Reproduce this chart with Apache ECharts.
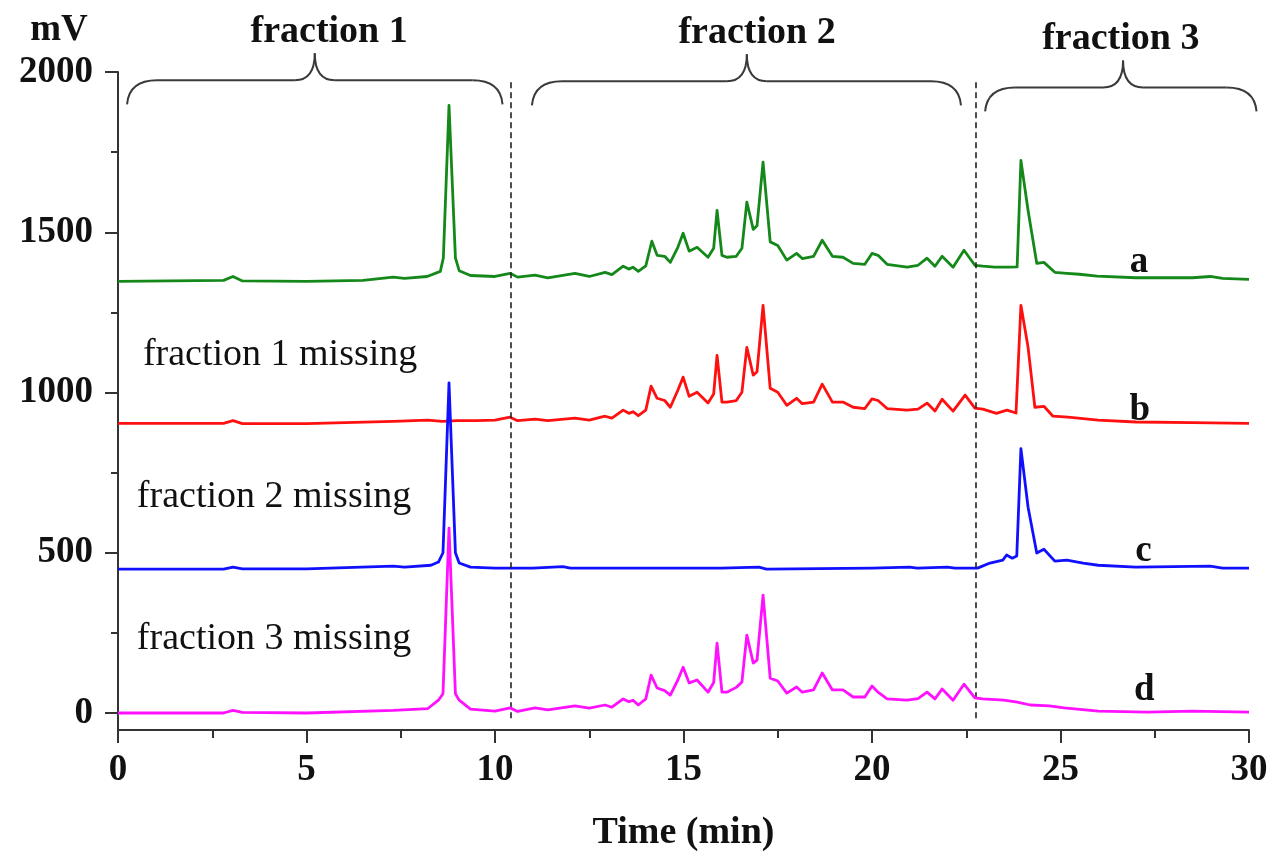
<!DOCTYPE html>
<html>
<head>
<meta charset="utf-8">
<script src="https://cdn.jsdelivr.net/npm/echarts@6/dist/echarts.min.js"></script>
<style>
  html, body { margin: 0; padding: 0; background: #fff; }
  #chart { width: 1273px; height: 859px; }
</style>
</head>
<body>
<div id="chart"></div>
<script>
// Chromatograms: [time (min), signal (mV)], traces stacked with offsets
const traceA = [
  [0.0,1347],[2.8,1350],[3.05,1362],[3.3,1348],[5.0,1347],[6.5,1350],[7.3,1360],[7.6,1356],
  [8.2,1362],[8.55,1378],[8.63,1420],[8.78,1896],[8.95,1420],[9.05,1380],[9.35,1365],[10.0,1362],
  [10.4,1372],[10.6,1360],[11.06,1366],[11.4,1358],[12.12,1372],[12.5,1362],[12.92,1375],[13.1,1368],
  [13.4,1394],[13.55,1385],[13.66,1391],[13.8,1378],[14.0,1395],[14.16,1472],[14.3,1428],[14.5,1425],
  [14.65,1406],[14.85,1453],[14.99,1497],[15.15,1441],[15.36,1453],[15.65,1422],[15.8,1450],[15.89,1568],
  [16.02,1428],[16.15,1422],[16.4,1425],[16.55,1450],[16.68,1594],[16.85,1509],[16.95,1520],[17.11,1719],
  [17.3,1470],[17.5,1459],[17.74,1413],[18.0,1434],[18.15,1418],[18.45,1425],[18.68,1475],[18.95,1425],
  [19.23,1422],[19.5,1403],[19.81,1400],[20.0,1434],[20.16,1428],[20.4,1400],[20.93,1391],[21.22,1397],
  [21.46,1419],[21.67,1394],[21.86,1425],[22.15,1391],[22.44,1444],[22.73,1397],[22.94,1394],[23.25,1391],
  [23.66,1391],[23.85,1392],[23.95,1724],[24.14,1568],[24.37,1403],[24.56,1406],[24.85,1375],[25.17,1372],
  [25.5,1369],[25.97,1363],[27.0,1358],[28.5,1358],[28.97,1362],[29.3,1356],[30.0,1353]
];
const traceB = [
  [0.0,904],[2.8,904],[3.05,912],[3.3,903],[5.0,903],[7.3,910],[8.22,914],[8.6,910],[9.0,912],
  [9.5,912],[10.0,914],[10.4,923],[10.6,912],[11.06,917],[11.4,912],[12.12,920],[12.5,914],[12.92,926],
  [13.1,920],[13.4,945],[13.55,935],[13.66,940],[13.8,928],[14.0,945],[14.14,1020],[14.3,982],[14.5,975],
  [14.65,954],[14.85,1007],[14.99,1048],[15.15,988],[15.36,1001],[15.65,967],[15.8,995],[15.89,1116],
  [16.02,970],[16.15,970],[16.4,975],[16.55,1001],[16.68,1141],[16.85,1054],[16.95,1065],[17.11,1272],
  [17.3,1013],[17.5,1001],[17.74,960],[18.0,982],[18.15,965],[18.45,970],[18.68,1026],[18.95,970],
  [19.23,970],[19.5,954],[19.81,950],[20.0,980],[20.16,975],[20.4,950],[20.93,945],[21.22,948],
  [21.46,967],[21.67,942],[21.86,979],[22.15,942],[22.47,992],[22.73,951],[22.94,948],[23.3,935],
  [23.58,945],[23.82,936],[23.95,1272],[24.14,1141],[24.32,954],[24.56,957],[24.8,926],[25.2,923],
  [26.0,914],[27.0,908],[28.5,906],[30.0,904]
];
const traceC = [
  [0.0,449],[2.8,449],[3.05,455],[3.3,450],[5.0,450],[7.3,458],[7.6,455],[8.3,461],[8.5,471],
  [8.62,500],[8.78,1030],[8.95,500],[9.05,468],[9.35,455],[10.0,452],[11.0,452],[11.8,457],[12.0,452],
  [16.0,452],[17.0,455],[17.2,449],[20.0,452],[21.0,455],[21.2,452],[22.0,455],[22.2,452],[22.8,452],
  [23.13,468],[23.47,477],[23.57,493],[23.72,483],[23.84,490],[23.95,825],[24.14,642],[24.37,499],
  [24.56,511],[24.85,474],[25.17,477],[25.6,468],[26.0,461],[27.0,455],[28.97,458],[29.3,452],[30.0,452]
];
const traceD = [
  [0.0,0],[2.8,0],[3.05,8],[3.3,2],[5.0,0],[7.3,8],[8.22,14],[8.5,40],[8.62,60],[8.78,577],
  [8.95,60],[9.05,40],[9.35,12],[10.0,6],[10.4,16],[10.6,5],[11.06,16],[11.4,10],[12.12,22],[12.5,15],
  [12.92,25],[13.1,18],[13.4,44],[13.55,35],[13.66,40],[13.8,25],[14.0,44],[14.14,118],[14.3,78],
  [14.5,70],[14.65,56],[14.85,103],[14.99,143],[15.15,94],[15.36,103],[15.65,65],[15.8,95],[15.89,218],
  [16.02,65],[16.15,65],[16.4,80],[16.55,97],[16.68,243],[16.85,156],[16.95,165],[17.11,368],[17.3,109],
  [17.5,100],[17.74,62],[18.0,81],[18.15,65],[18.45,72],[18.68,125],[18.95,72],[19.23,72],[19.5,50],
  [19.81,50],[20.0,84],[20.16,65],[20.4,44],[20.93,40],[21.22,45],[21.46,65],[21.67,44],[21.86,75],
  [22.15,40],[22.44,90],[22.73,47],[22.94,44],[23.5,40],[23.85,34],[24.2,25],[24.7,22],[25.1,16],
  [26.0,6],[27.3,3],[28.5,6],[30.0,3]
];

const traceNames = ['a', 'b', 'c', 'd'];
const traceColors = ['#14891a', '#ff1010', '#1010ff', '#ff10ff'];

// Trace tags: [time, mV at text baseline]
const traceTagPos = [[27.08, 1372], [27.1, 910], [27.2, 468], [27.22, 34]];

// Notes on missing fractions: text, [time of left edge, mV at baseline]
const missingNotes = ['fraction 1 missing', 'fraction 2 missing', 'fraction 3 missing'];
const missingNotePos = [[0.66, 1082], [0.5, 639], [0.5, 196]];

// Fraction boundaries (dashed lines) in min
const fractionCuts = [10.42, 22.76];

// Braces over each fraction: [from, to, cusp] in min, flat level in mV, label centre in min
const braceLabels = ['fraction 1', 'fraction 2', 'fraction 3'];
const braceSpans = [[0.24, 10.2, 5.22], [10.98, 22.36, 16.68], [23.0, 30.2, 26.66]];
const braceLevels = [1974, 1971, 1952];
const braceLabelAt = [5.6, 16.95, 26.6];

const xTicks = [0, 5, 10, 15, 20, 25, 30];
const yLabelTicks = [0, 500, 1000, 1500, 2000];
const yMinorTicks = [250, 750, 1250, 1750];

const SERIF = '"Liberation Serif", "Times New Roman", Times, serif';
const AXIS_COLOR = '#333';
const plain = v => String(v);

const chart = echarts.init(document.getElementById('chart'), null, { renderer: 'canvas' });

const traces = [traceA, traceB, traceC, traceD];
const series = traces.map((d, i) => ({
  name: traceNames[i],
  type: 'line',
  data: d,
  showSymbol: false,
  symbol: 'none',
  smooth: false,
  lineStyle: { color: traceColors[i], width: 2.8, join: 'round' },
  itemStyle: { color: traceColors[i] },
  z: 2 + i,
  silent: true
}));

// Dashed boundaries between fractions
series.push({
  type: 'line',
  data: [],
  silent: true,
  markLine: {
    silent: true,
    symbol: ['none', 'none'],
    label: { show: false },
    lineStyle: { color: '#222', type: [6, 4], width: 1.6 },
    data: fractionCuts.map(t => [{ coord: [t, 1968] }, { coord: [t, -28] }])
  }
});

chart.setOption({
  animation: false,
  backgroundColor: '#fff',
  grid: { left: 118, right: 24, top: 72, bottom: 129, containLabel: false },
  xAxis: {
    type: 'value',
    min: 0, max: 30, interval: 5,
    name: 'Time (min)',
    nameLocation: 'middle',
    nameGap: 84,
    nameTextStyle: { fontFamily: SERIF, fontWeight: 'bold', fontSize: 38, color: '#111' },
    axisLine: { show: true, onZero: false, lineStyle: { color: AXIS_COLOR, width: 2 } },
    axisTick: { show: true, inside: false, length: 13, lineStyle: { color: AXIS_COLOR, width: 2 } },
    minorTick: { show: true, splitNumber: 2, length: 8, lineStyle: { color: AXIS_COLOR, width: 2 } },
    axisLabel: {
      margin: 22, fontFamily: SERIF, fontWeight: 'bold', fontSize: 37, color: '#111',
      customValues: xTicks, formatter: plain
    },
    splitLine: { show: false },
    minorSplitLine: { show: false }
  },
  yAxis: [{
    type: 'value',
    min: -53, max: 2000,
    position: 'left',
    axisLine: { show: true, onZero: false, lineStyle: { color: AXIS_COLOR, width: 2 } },
    axisTick: { show: true, inside: false, length: 13, customValues: yLabelTicks, lineStyle: { color: AXIS_COLOR, width: 2 } },
    axisLabel: {
      margin: 25, fontFamily: SERIF, fontWeight: 'bold', fontSize: 37, color: '#111',
      customValues: yLabelTicks, formatter: plain
    },
    splitLine: { show: false }
  }, {
    type: 'value',
    min: -53, max: 2000,
    position: 'left',
    offset: 0,
    axisLine: { show: false },
    axisTick: { show: true, inside: false, length: 7, customValues: yMinorTicks, lineStyle: { color: AXIS_COLOR, width: 2 } },
    axisLabel: { show: false },
    splitLine: { show: false }
  }],
  series: series
});

// Annotations placed through the chart's own coordinate system
function px(t, v) { return chart.convertToPixel({ gridIndex: 0 }, [t, v]); }
const BASE_SHIFT = 0.305; // distance from canvas "middle" to alphabetic baseline, in em
const BRACE_STYLE = { stroke: '#3a3a3a', lineWidth: 2, fill: null };

const graphics = [];

// Y axis unit
graphics.push({
  type: 'text', x: 59, y: 42 - BASE_SHIFT * 37,
  style: { text: 'mV', font: 'bold 37px ' + SERIF, fill: '#111', align: 'center', verticalAlign: 'middle' }
});

function curve(x1, y1, cx, cy, x2, y2) {
  return { type: 'bezierCurve', silent: true,
    shape: { x1: x1, y1: y1, cpx1: cx, cpy1: cy, x2: x2, y2: y2 }, style: BRACE_STYLE };
}
function seg(x1, y1, x2, y2) {
  return { type: 'line', silent: true, shape: { x1: x1, y1: y1, x2: x2, y2: y2 }, style: BRACE_STYLE };
}

// Braces and their labels
braceSpans.forEach((span, i) => {
  const [from, to, cusp] = span;
  const pL = px(from, braceLevels[i]);
  const pR = px(to, braceLevels[i]);
  const pC = px(cusp, braceLevels[i]);
  const yF = pL[1], yE = yF + 24, yT = yF - 27;
  const x0 = pL[0], x1 = pR[0], xc = pC[0];
  const r = 30, rc = 20;
  graphics.push(curve(x0, yE, x0 + 2, yF, x0 + r, yF));
  graphics.push(seg(x0 + r, yF, xc - rc, yF));
  graphics.push(curve(xc - rc, yF, xc, yF, xc, yT));
  graphics.push(curve(xc, yT, xc, yF, xc + rc, yF));
  graphics.push(seg(xc + rc, yF, x1 - r, yF));
  graphics.push(curve(x1 - r, yF, x1 - 2, yF, x1, yE));
  const lx = px(braceLabelAt[i], braceLevels[i])[0];
  graphics.push({
    type: 'text', x: lx, y: yF - 37 - BASE_SHIFT * 38,
    style: { text: braceLabels[i], font: 'bold 38px ' + SERIF, fill: '#111', align: 'center', verticalAlign: 'middle' }
  });
});

// Trace tags a-d
traceTagPos.forEach((p, i) => {
  const q = px(p[0], p[1]);
  graphics.push({
    type: 'text', x: q[0], y: q[1] - BASE_SHIFT * 37,
    style: { text: traceNames[i], font: 'bold 37px ' + SERIF, fill: '#111', align: 'center', verticalAlign: 'middle' }
  });
});

// Missing-fraction notes
missingNotes.forEach((txt, i) => {
  const q = px(missingNotePos[i][0], missingNotePos[i][1]);
  graphics.push({
    type: 'text', x: q[0], y: q[1] - BASE_SHIFT * 38,
    style: { text: txt, font: '38px ' + SERIF, fill: '#111', align: 'left', verticalAlign: 'middle' }
  });
});

chart.setOption({ graphic: graphics });
</script>
</body>
</html>
